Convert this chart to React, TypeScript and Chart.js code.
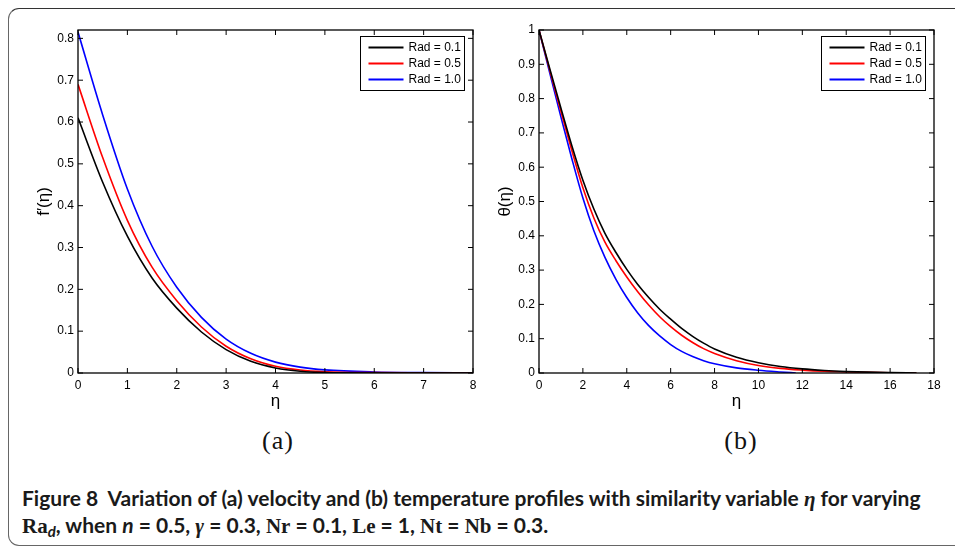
import React, { useEffect, useRef } from "react";
import { Chart, registerables } from "chart.js";

Chart.register(...registerables);

// ---------- data ----------
const seriesLabels = ["Rad = 0.1", "Rad = 0.5", "Rad = 1.0"];
const seriesColors = ["#000000", "#ff0000", "#0000ff"];

// (a) velocity f'(eta)
const etaVelocity = [0, 0.5, 1, 1.5, 2, 2.5, 3, 3.5, 4, 4.5, 5, 6, 7, 8];
const velocityRad01 = [0.61, 0.456, 0.327, 0.227, 0.155, 0.098, 0.056, 0.028, 0.012, 0.004, 0.001, 0, 0, 0];
const velocityRad05 = [0.69, 0.515, 0.365, 0.253, 0.173, 0.11, 0.064, 0.034, 0.016, 0.007, 0.003, 0.0008, 0.0002, 0];
const velocityRad10 = [0.815, 0.617, 0.44, 0.303, 0.205, 0.133, 0.081, 0.047, 0.026, 0.014, 0.0075, 0.0025, 0.001, 0.0005];
const velocityXTicks = [0, 1, 2, 3, 4, 5, 6, 7, 8];
const velocityYTicks = [0, 0.1, 0.2, 0.3, 0.4, 0.5, 0.6, 0.7, 0.8];

// (b) temperature theta(eta)
const etaTemp = [0, 0.5, 1, 1.5, 2, 2.5, 3, 3.5, 4, 4.5, 5, 5.5, 6, 6.5, 7, 7.5, 8, 9, 10, 11, 12, 13, 14, 15, 16, 17.2];
const tempRad01 = [1, 0.885, 0.772, 0.662, 0.562, 0.478, 0.408, 0.352, 0.302, 0.258, 0.22, 0.186, 0.157, 0.13, 0.107, 0.087, 0.07, 0.046, 0.03, 0.019, 0.012, 0.0075, 0.0045, 0.0025, 0.0012, 0];
const tempRad05 = [1, 0.88, 0.762, 0.648, 0.54, 0.452, 0.382, 0.328, 0.28, 0.237, 0.198, 0.164, 0.135, 0.11, 0.089, 0.071, 0.057, 0.036, 0.022, 0.0135, 0.0085, 0.005, 0.003, 0.0017, 0.0008, 0];
const etaTempRad10 = [0, 0.5, 1, 1.5, 2, 2.5, 3, 3.5, 4, 4.5, 5, 5.5, 6, 6.5, 7, 7.5, 8, 9, 10, 11, 11.7];
const tempRad10 = [1, 0.872, 0.746, 0.624, 0.51, 0.415, 0.338, 0.274, 0.22, 0.175, 0.138, 0.108, 0.083, 0.063, 0.048, 0.036, 0.027, 0.015, 0.008, 0.003, 0];
const tempXTicks = [0, 2, 4, 6, 8, 10, 12, 14, 16, 18];
const tempYTicks = [0, 0.1, 0.2, 0.3, 0.4, 0.5, 0.6, 0.7, 0.8, 0.9, 1];

const toPoints = (xs: number[], ys: number[]) => xs.map((x, i) => ({ x, y: ys[i] }));

// ---------- plugin: box frame, inward ticks, inset legend ----------
const matlabFrame = {
  id: "matlabFrame",
  afterDatasetsDraw(chart: any) {
    const { ctx, chartArea } = chart;
    const { left, right, top, bottom } = chartArea;
    const xs = chart.scales.x;
    const ys = chart.scales.y;
    ctx.save();
    ctx.strokeStyle = "#000";
    ctx.lineWidth = 1.3;
    ctx.strokeRect(left, top, right - left, bottom - top);
    ctx.lineWidth = 1;
    const tl = 5;
    ctx.beginPath();
    xs.ticks.forEach((t: any) => {
      const p = xs.getPixelForValue(t.value);
      ctx.moveTo(p, bottom);
      ctx.lineTo(p, bottom - tl);
      ctx.moveTo(p, top);
      ctx.lineTo(p, top + tl);
    });
    ys.ticks.forEach((t: any) => {
      const p = ys.getPixelForValue(t.value);
      ctx.moveTo(left, p);
      ctx.lineTo(left + tl, p);
      ctx.moveTo(right, p);
      ctx.lineTo(right - tl, p);
    });
    ctx.stroke();

    // legend
    const bw = 104;
    const bh = 54;
    const bx = Math.round(right - 9 - bw) + 0.5;
    const by = Math.round(top + 6) + 0.5;
    ctx.fillStyle = "#fff";
    ctx.fillRect(bx, by, bw, bh);
    ctx.strokeStyle = "#000";
    ctx.lineWidth = 1;
    ctx.strokeRect(bx, by, bw, bh);
    ctx.font = '12px "Liberation Sans", Arial, sans-serif';
    ctx.textBaseline = "middle";
    ctx.textAlign = "left";
    chart.data.datasets.forEach((ds: any, i: number) => {
      const yy = by + 11 + i * 16;
      ctx.strokeStyle = ds.borderColor;
      ctx.lineWidth = 2;
      ctx.beginPath();
      ctx.moveTo(bx + 8, yy);
      ctx.lineTo(bx + 43, yy);
      ctx.stroke();
      ctx.fillStyle = "#000";
      ctx.fillText(ds.label, bx + 48, yy + 0.5);
    });
    ctx.restore();
  },
};

const tickFont = { family: '"Liberation Sans", Arial, sans-serif', size: 12 };
const titleFont = { family: '"Liberation Sans", Arial, sans-serif', size: 17 };

function makeConfig(opts: {
  datasets: any[];
  xMax: number;
  yMax: number;
  xTicks: number[];
  yTicks: number[];
  yTitle: string;
  yAxisWidth: number;
  yTitlePad: number;
  rightPad: number;
}) {
  return {
    type: "line",
    data: { datasets: opts.datasets },
    plugins: [matlabFrame],
    options: {
      responsive: false,
      animation: false,
      events: [],
      layout: { padding: { left: 0, top: 30, right: opts.rightPad, bottom: 0 } },
      plugins: { legend: { display: false }, tooltip: { enabled: false } },
      elements: { point: { radius: 0 }, line: { borderWidth: 1.6 } },
      scales: {
        x: {
          type: "linear",
          min: 0,
          max: opts.xMax,
          grid: { display: false, drawTicks: false },
          border: { display: false },
          afterBuildTicks: (s: any) => {
            s.ticks = opts.xTicks.map((v) => ({ value: v }));
          },
          afterFit: (s: any) => {
            s.height = 47;
          },
          ticks: {
            color: "#000",
            font: tickFont,
            padding: 5,
            maxRotation: 0,
            autoSkip: false,
            callback: (v: any) => String(v),
          },
          title: { display: true, text: "η", color: "#000", font: titleFont, padding: { top: 0, bottom: 8 } },
        },
        y: {
          type: "linear",
          min: 0,
          max: opts.yMax,
          grid: { display: false, drawTicks: false },
          border: { display: false },
          afterBuildTicks: (s: any) => {
            s.ticks = opts.yTicks.map((v) => ({ value: v }));
          },
          afterFit: (s: any) => {
            s.width = opts.yAxisWidth;
          },
          ticks: { color: "#000", font: tickFont, padding: 4, autoSkip: false, callback: (v: any) => String(v) },
          title: { display: true, text: opts.yTitle, color: "#000", font: titleFont, padding: { top: opts.yTitlePad, bottom: 0 } },
        },
      },
    },
  };
}

function buildDatasets(list: { xs: number[]; ys: number[] }[]) {
  return list.map((s, i) => ({
    label: seriesLabels[i],
    data: toPoints(s.xs, s.ys),
    borderColor: seriesColors[i],
    backgroundColor: seriesColors[i],
    fill: false,
    cubicInterpolationMode: "monotone",
    pointRadius: 0,
    borderWidth: 1.6,
  }));
}

function ChartCanvas(props: { config: any; style: React.CSSProperties; width: number; height: number }) {
  const ref = useRef<HTMLCanvasElement | null>(null);
  useEffect(() => {
    if (!ref.current) return;
    const chart = new Chart(ref.current, props.config);
    return () => chart.destroy();
  }, []);
  return <canvas ref={ref} width={props.width} height={props.height} style={props.style} />;
}

const serif: React.CSSProperties = { fontFamily: '"Liberation Serif", "Times New Roman", serif' };

export default function App() {
  const velocityConfig = makeConfig({
    datasets: buildDatasets([
      { xs: etaVelocity, ys: velocityRad01 },
      { xs: etaVelocity, ys: velocityRad05 },
      { xs: etaVelocity, ys: velocityRad10 },
    ]),
    xMax: 8,
    yMax: 0.82,
    xTicks: velocityXTicks,
    yTicks: velocityYTicks,
    yTitle: "f′(η)",
    yAxisWidth: 78,
    yTitlePad: 34,
    rightPad: 17,
  });
  const tempConfig = makeConfig({
    datasets: buildDatasets([
      { xs: etaTemp, ys: tempRad01 },
      { xs: etaTemp, ys: tempRad05 },
      { xs: etaTempRad10, ys: tempRad10 },
    ]),
    xMax: 18,
    yMax: 1,
    xTicks: tempXTicks,
    yTicks: tempYTicks,
    yTitle: "θ(η)",
    yAxisWidth: 69,
    yTitlePad: 25,
    rightPad: 21,
  });

  const subLabel: React.CSSProperties = {
    position: "absolute",
    top: 426,
    width: 80,
    textAlign: "center",
    fontFamily: '"Liberation Serif", "Times New Roman", serif',
    fontSize: 26,
    letterSpacing: 1,
    color: "#111",
    lineHeight: "30px",
  };

  return (
    <div
      style={{
        position: "absolute",
        left: 0,
        top: 0,
        width: 955,
        height: 547,
        overflow: "hidden",
        background: "#fff",
      }}
    >
      <div
        style={{
          position: "absolute",
          left: 8,
          top: 8,
          width: 980,
          height: 538,
          borderLeft: "1.5px solid #666",
          borderTop: "1.5px solid #333",
          borderBottom: "1.5px solid #666",
          borderRadius: 11,
          boxSizing: "border-box",
        }}
      />
      <ChartCanvas
        config={velocityConfig}
        width={490}
        height={420}
        style={{ position: "absolute", left: 0, top: 0, width: 490, height: 420 }}
      />
      <ChartCanvas
        config={tempConfig}
        width={485}
        height={420}
        style={{ position: "absolute", left: 470, top: 0, width: 485, height: 420 }}
      />
      <div style={{ ...subLabel, left: 238 }}>(a)</div>
      <div style={{ ...subLabel, left: 701 }}>(b)</div>
      <div
        style={{
          position: "absolute",
          left: 22,
          top: 485,
          fontFamily: 'Lato, "Noto Sans", sans-serif',
          fontWeight: 700,
          fontSize: 21,
          lineHeight: "25px",
          color: "#1a1a1a",
          whiteSpace: "nowrap",
        }}
      >
        <div>
          Figure 8&nbsp;&nbsp;Variation of (a) velocity and (b) temperature profiles with similarity variable{" "}
          <i style={serif}>η</i> for varying
        </div>
        <div>
          <span style={serif}>Ra</span>
          <i style={{ fontSize: 15, verticalAlign: "-0.25em", lineHeight: 0 }}>d</i>, when <i>n</i> = 0.5,{" "}
          <i style={serif}>γ</i> = 0.3, <span style={serif}>Nr</span> = 0.1, <span style={serif}>Le</span> = 1,{" "}
          <span style={serif}>Nt</span> = <span style={serif}>Nb</span> = 0.3.
        </div>
      </div>
    </div>
  );
}
